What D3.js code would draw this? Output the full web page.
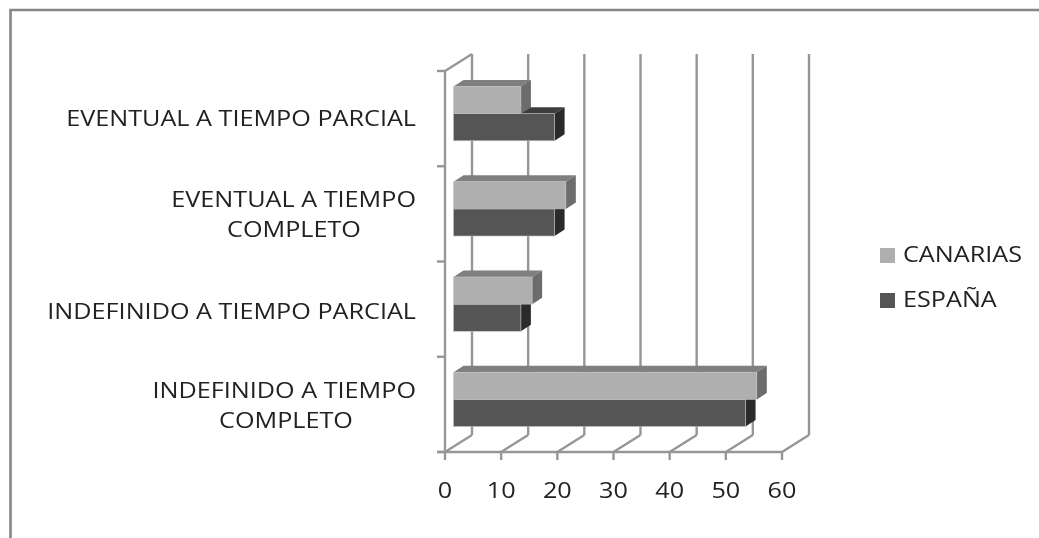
<!DOCTYPE html>
<html><head><meta charset="utf-8">
<script src="https://cdn.jsdelivr.net/npm/d3@7"></script>
<style>html,body{margin:0;padding:0;background:#fff}svg{display:block}text{font-family:"Open Sans",sans-serif;fill:#222}</style>
</head><body><svg id="c" width="1039" height="538"></svg>
<script>
const categories = [["INDEFINIDO A TIEMPO","COMPLETO"],["INDEFINIDO A TIEMPO PARCIAL"],["EVENTUAL A TIEMPO","COMPLETO"],["EVENTUAL A TIEMPO PARCIAL"]];
const canarias = [54, 14, 20, 12];
const espana = [52, 12, 18, 18];
const xTicks = [0,10,20,30,40,50,60];
const seriesNames = ["CANARIAS","ESPAÑA"];

const svg = d3.select("#c");
const defs = svg.append("defs");
defs.append("filter").attr("id","soft").append("feGaussianBlur").attr("stdDeviation",0.5);
const root = svg.append("g").attr("filter","url(#soft)");

const frame = "#858585", grid = "#969696";
root.append("path").attr("d","M10.5 538V10H1039").attr("fill","none").attr("stroke",frame).attr("stroke-width",2.6);

const x = d3.scaleLinear().domain([0,60]).range([445,782]);
const yFront = [452,71];
const band = d3.scaleBand().domain(d3.range(4)).range(yFront).paddingInner(0.43).paddingOuter(0.215);
const wallDx = 27, wallDy = -17;
const barDx = 8.5, barDy = -5;
const depthX = 10, depthY = -6.5;
const fs = 21, sx = 1.2;

function label(s,px,py,anchor){
  root.append("text").attr("transform",`translate(${px},${py}) scale(${sx},1)`)
    .attr("text-anchor",anchor).attr("font-size",fs).text(s);
}
const line = (a,b,c,d,w=2.4) => root.append("line").attr("x1",a).attr("y1",b).attr("x2",c).attr("y2",d).attr("stroke",grid).attr("stroke-width",w);
xTicks.forEach(t=>{
  const px=x(t);
  line(px+wallDx,yFront[1]+wallDy,px+wallDx,yFront[0]+wallDy);
  line(px,yFront[0],px+wallDx,yFront[0]+wallDy);
  line(px,yFront[0],px,yFront[0]+8);
  label(t,px,498,"middle");
});
line(x(0),yFront[1],x(0)+wallDx,yFront[1]+wallDy);
line(x(0)-8,yFront[0],x(60),yFront[0]);
line(x(0),yFront[0],x(0),yFront[1]);
const yTicks = d3.scaleLinear().domain([0,4]).range(yFront);
d3.range(5).forEach(i=>line(x(0)-8,yTicks(i),x(0),yTicks(i)));

const colors = {
  CANARIAS:{front:"#afafaf",top:"#7f7f7f",side:"#6c6c6c"},
  ESPANA:{front:"#555555",top:"#3c3c3c",side:"#2c2c2c"}
};
function bar(v,yTop,h,c){
  const x0=x(0)+barDx,x1=x(v)+barDx,y0=yTop+barDy,y1=y0+h;
  root.append("path").attr("fill",c.top).attr("d",`M${x0} ${y0}L${x0+depthX} ${y0+depthY}H${x1+depthX}L${x1} ${y0}Z`);
  root.append("path").attr("fill",c.side).attr("d",`M${x1} ${y0}L${x1+depthX} ${y0+depthY}V${y1+depthY}L${x1} ${y1}Z`);
  root.append("rect").attr("x",x0).attr("y",y0).attr("width",x1-x0).attr("height",h).attr("fill",c.front).attr("stroke","#c4c4c4").attr("stroke-width",0.6);
}
const labelRight = 416, secondCenter = [286,null,294,null];
categories.forEach((cat,i)=>{
  const h=band.bandwidth()/2, t=band(i);
  bar(espana[i],t+h,h,colors.ESPANA);
  bar(canarias[i],t,h,colors.CANARIAS);
  const cy=yTicks(i+0.5);
  if(cat.length===1){
    label(cat[0],labelRight,cy+ (i===1?9.5:7.5),"end");
  }else{
    label(cat[0],labelRight,cy-(i===0?6:6.5),"end");
    label(cat[1],secondCenter[i],cy+(i===0?24:23.5),"middle");
  }
});

const legend=[[seriesNames[0],"#afafaf",255.5,262],[seriesNames[1],"#555555",300.5,307]];
legend.forEach(([n,c,y,b])=>{
  root.append("rect").attr("x",880).attr("y",y-7.5).attr("width",15).attr("height",15).attr("fill",c);
  label(n,903,b,"start");
});
</script></body></html>
